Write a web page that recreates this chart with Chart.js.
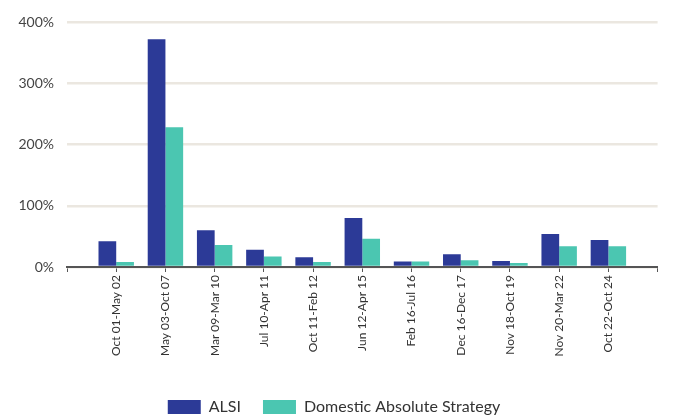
<!DOCTYPE html>
<html>
<head>
<meta charset="utf-8">
<script src="https://cdn.jsdelivr.net/npm/chart.js@4.4.1/dist/chart.umd.min.js"></script>
<style>
  html, body { margin: 0; padding: 0; background: #fff; }
  #wrap { width: 675px; height: 415px; }
</style>
</head>
<body>
<div id="wrap"><canvas id="grafico"></canvas></div>
<script>
// periods (empty slots at both ends give the extra ticks at the axis ends)
var periodos = ['', 'Oct 01-May 02', 'May 03-Oct 07', 'Mar 09-Mar 10', 'Jul 10-Apr 11', 'Oct 11-Feb 12',
  'Jun 12-Apr 15', 'Feb 16-Jul 16', 'Dec 16-Dec 17', 'Nov 18-Oct 19', 'Nov 20-Mar 22', 'Oct 22-Oct 24', ''];
var alsi = [null, 42, 372, 60, 28, 16, 80, 9, 21, 10, 54, 44, null];
var domestica = [null, 8, 228, 36, 17, 8, 46, 9, 11, 6.5, 34, 34, null];
var ticksY = [0, 100, 200, 300, 400];

// push the legend down to the bottom edge (legend padding also sets the gap between items)
var bajarLeyenda = {
  id: 'bajarLeyenda',
  afterLayout: function (chart) {
    chart.legend.top += 10;
    chart.legend.bottom += 10;
  }
};

var ctx = document.getElementById('grafico').getContext('2d');

var miGrafico = new Chart(ctx, {
  type: 'bar',
  data: {
    labels: periodos,
    datasets: [{
      label: 'ALSI',
      data: alsi,
      backgroundColor: '#2c3a97',
      categoryPercentage: 0.72,
      barPercentage: 1
    }, {
      label: 'Domestic Absolute Strategy',
      data: domestica,
      backgroundColor: '#4bc6b1',
      categoryPercentage: 0.72,
      barPercentage: 1
    }]
  },
  plugins: [bajarLeyenda],
  options: {
    responsive: true,
    maintainAspectRatio: false,
    animation: false,
    layout: { padding: { left: 0, right: 7, top: 22, bottom: 0 } },
    plugins: {
      tooltip: { enabled: false },
      legend: {
        position: 'bottom',
        labels: {
          boxWidth: 33,
          boxHeight: 14,
          padding: 22,
          color: '#333',
          font: { family: 'Lato', size: 16 }
        }
      }
    },
    scales: {
      x: {
        offset: false,
        afterFit: function (escala) { escala.height = 100; },
        grid: {
          offset: false,
          drawOnChartArea: false,
          drawTicks: true,
          tickLength: 5,
          color: '#555'
        },
        border: { color: '#555', width: 2 },
        ticks: {
          autoSkip: false,
          minRotation: 90,
          maxRotation: 90,
          color: '#333',
          font: { family: 'Lato', size: 12 }
        }
      },
      y: {
        min: 0,
        max: 400,
        afterFit: function (escala) { escala.width = 67; },
        afterBuildTicks: function (escala) {
          escala.ticks = ticksY.map(function (v) { return { value: v }; });
        },
        grid: { color: '#ebe7e0', lineWidth: 2.5, drawTicks: false },
        border: { display: false },
        ticks: {
          padding: 13,
          color: '#444',
          font: { family: 'Lato', size: 14 },
          callback: function (v) { return v + '%'; }
        }
      }
    }
  }
});
</script>
</body>
</html>
